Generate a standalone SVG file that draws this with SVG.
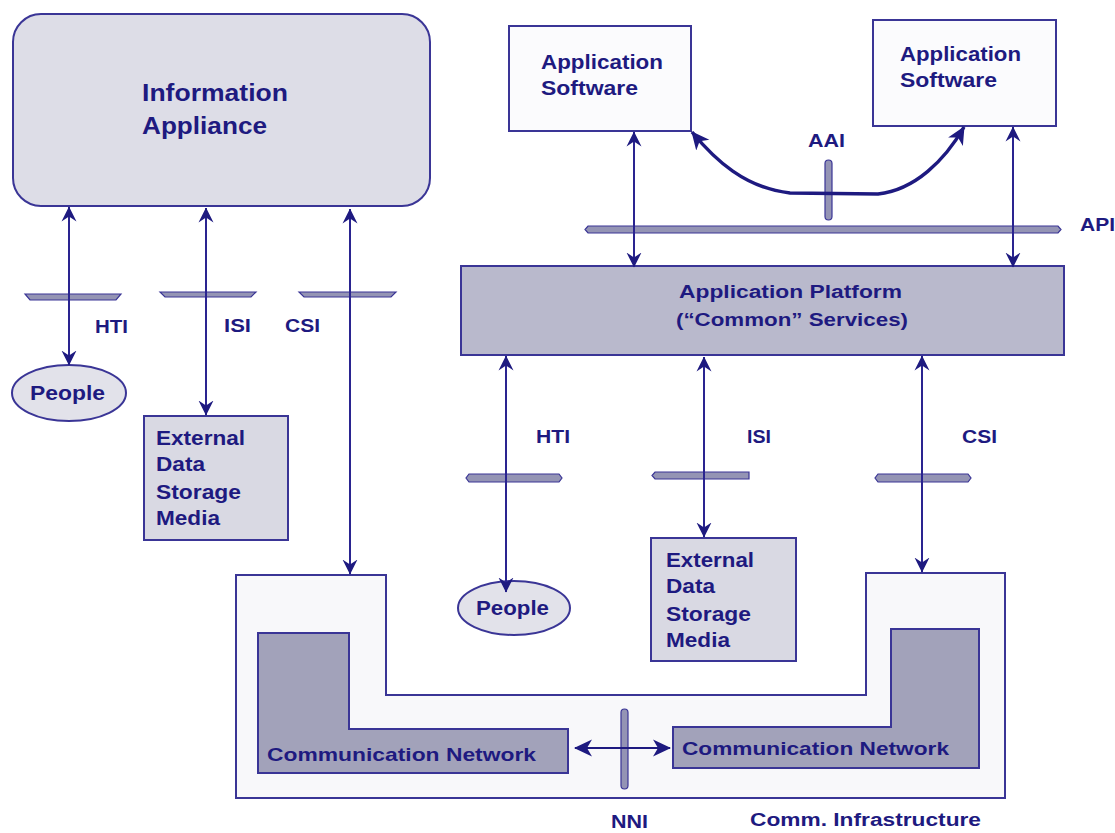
<svg xmlns="http://www.w3.org/2000/svg" width="1115" height="833" viewBox="0 0 1115 833">
  <defs>
    <marker id="barb" viewBox="0 0 15 16" refX="14.5" refY="8" markerWidth="15" markerHeight="16" markerUnits="userSpaceOnUse" orient="auto-start-reverse">
      <path d="M15,8 L0,0.5 L5,8 L0,15.5 Z" fill="#1e1a80"/>
    </marker>
    <marker id="barb-big" viewBox="0 0 18 18" refX="17" refY="9" markerWidth="18" markerHeight="18" markerUnits="userSpaceOnUse" orient="auto-start-reverse">
      <path d="M18,9 L0,0.5 L5,9 L0,17.5 Z" fill="#1e1a80"/>
    </marker>
    <style>
      text { font-family: "Liberation Sans", Arial, sans-serif; font-weight: bold; fill: #1e1a80; }
      .box { stroke: #3a3596; stroke-width: 2; }
      .link { fill: none; stroke: #2a2490; stroke-width: 2; marker-start: url(#barb); marker-end: url(#barb); }
      .link-big { fill: none; stroke: #1e1a80; stroke-width: 3.5; marker-start: url(#barb-big); marker-end: url(#barb-big); }
      .bar { fill: #9494b4; stroke: #3a3596; stroke-width: 1.2; }
    </style>
  </defs>

  <rect width="1115" height="833" fill="#ffffff"/>

  <!-- communication infrastructure frame -->
  <g id="comm-infrastructure">
    <path class="box" fill="#f8f8fa" d="M236,575 L386,575 L386,695 L866,695 L866,573 L1005,573 L1005,798 L236,798 Z"/>
    <text x="750" y="826" font-size="18" textLength="231" lengthAdjust="spacingAndGlyphs">Comm. Infrastructure</text>
  </g>

  <g id="comm-network-left">
    <path class="box" fill="#a2a2ba" d="M258,633 L349,633 L349,729 L568,729 L568,773 L258,773 Z"/>
    <text x="267" y="761" font-size="19" textLength="269" lengthAdjust="spacingAndGlyphs">Communication Network</text>
  </g>

  <g id="comm-network-right">
    <path class="box" fill="#a2a2ba" d="M891,629 L979,629 L979,768 L673,768 L673,727 L891,727 Z"/>
    <text x="682" y="755" font-size="19" textLength="267" lengthAdjust="spacingAndGlyphs">Communication Network</text>
  </g>

  <!-- information appliance side -->
  <g id="information-appliance">
    <rect class="box" x="13" y="14" width="417" height="192" rx="28" ry="28" fill="#dddde7"/>
    <text x="142" y="101" font-size="24" textLength="146" lengthAdjust="spacingAndGlyphs">Information</text>
    <text x="142" y="134" font-size="24" textLength="125" lengthAdjust="spacingAndGlyphs">Appliance</text>
  </g>

  <g id="people-left">
    <ellipse class="box" cx="69" cy="393" rx="57" ry="28" fill="#e2e2ea"/>
    <text x="30" y="400" font-size="20" textLength="75" lengthAdjust="spacingAndGlyphs">People</text>
  </g>

  <g id="storage-left">
    <rect class="box" x="144" y="416" width="144" height="124" fill="#d9d9e3"/>
    <text x="156" y="445" font-size="20" textLength="89" lengthAdjust="spacingAndGlyphs">External</text>
    <text x="156" y="471" font-size="20" textLength="49" lengthAdjust="spacingAndGlyphs">Data</text>
    <text x="156" y="499" font-size="20" textLength="85" lengthAdjust="spacingAndGlyphs">Storage</text>
    <text x="156" y="525" font-size="20" textLength="64" lengthAdjust="spacingAndGlyphs">Media</text>
  </g>

  <!-- application side -->
  <g id="app-software-1">
    <rect class="box" x="509" y="26" width="182" height="105" fill="#fbfbfd"/>
    <text x="541" y="69" font-size="20" textLength="122" lengthAdjust="spacingAndGlyphs">Application</text>
    <text x="541" y="95" font-size="20" textLength="97" lengthAdjust="spacingAndGlyphs">Software</text>
  </g>

  <g id="app-software-2">
    <rect class="box" x="873" y="20" width="183" height="106" fill="#fbfbfd"/>
    <text x="900" y="61" font-size="20" textLength="121" lengthAdjust="spacingAndGlyphs">Application</text>
    <text x="900" y="87" font-size="20" textLength="97" lengthAdjust="spacingAndGlyphs">Software</text>
  </g>

  <g id="app-platform">
    <rect class="box" x="461" y="266" width="603" height="89" fill="#b9b9cc"/>
    <text x="679" y="298" font-size="18" textLength="223" lengthAdjust="spacingAndGlyphs">Application Platform</text>
    <text x="676" y="326" font-size="18" textLength="232" lengthAdjust="spacingAndGlyphs">(“Common” Services)</text>
  </g>

  <g id="people-right">
    <ellipse class="box" cx="514" cy="608" rx="56" ry="27" fill="#e2e2ea"/>
    <text x="476" y="615" font-size="20" textLength="73" lengthAdjust="spacingAndGlyphs">People</text>
  </g>

  <g id="storage-right">
    <rect class="box" x="651" y="538" width="145" height="123" fill="#d9d9e3"/>
    <text x="666" y="567" font-size="20" textLength="88" lengthAdjust="spacingAndGlyphs">External</text>
    <text x="666" y="593" font-size="20" textLength="49" lengthAdjust="spacingAndGlyphs">Data</text>
    <text x="666" y="621" font-size="20" textLength="85" lengthAdjust="spacingAndGlyphs">Storage</text>
    <text x="666" y="647" font-size="20" textLength="64" lengthAdjust="spacingAndGlyphs">Media</text>
  </g>

  <!-- connectors and interface bars -->
  <g id="connectors">
    <!-- interface bars -->
    <polygon class="bar" points="25,294 121,294 116,300 30,300"/>
    <polygon class="bar" points="160,292 256,292 251,297 165,297"/>
    <polygon class="bar" points="299,292 396,292 391,297 304,297"/>
    <polygon class="bar" points="588,226 1058,226 1061,229.5 1058,233 588,233 585,229.5"/>
    <polygon class="bar" points="469,474 559,474 562,478 559,482 469,482 466,478"/>
    <polygon class="bar" points="655,472 749,472 749,479 655,479 652,475.5"/>
    <polygon class="bar" points="878,474 968,474 971,478 968,482 878,482 875,478"/>
    <rect class="bar" x="825" y="160" width="7" height="60" rx="3.5"/>
    <rect class="bar" x="621" y="709" width="7" height="80" rx="3.5"/>

    <!-- information appliance links -->
    <line class="link" x1="69" y1="207" x2="69" y2="365"/>
    <line class="link" x1="206" y1="208" x2="206" y2="415"/>
    <line class="link" x1="350" y1="209" x2="350" y2="574"/>

    <!-- application platform links -->
    <line class="link" x1="634" y1="132" x2="634" y2="267"/>
    <line class="link" x1="1013" y1="127" x2="1013" y2="267"/>
    <line class="link" x1="506" y1="356" x2="506" y2="592"/>
    <line class="link" x1="704" y1="357" x2="704" y2="537"/>
    <line class="link" x1="922" y1="356" x2="922" y2="572"/>

    <!-- application-to-application link -->
    <path class="link-big" d="M692,132 C715,160 745,188 790,193 L878,194 C915,190 945,160 964,127"/>

    <!-- network-to-network link -->
    <line class="link-big" style="stroke-width:2" x1="575" y1="748" x2="670" y2="748"/>
  </g>

  <!-- interface labels -->
  <g id="labels">
    <text x="95" y="333" font-size="18" textLength="33" lengthAdjust="spacingAndGlyphs">HTI</text>
    <text x="224" y="332" font-size="18" textLength="27" lengthAdjust="spacingAndGlyphs">ISI</text>
    <text x="285" y="332" font-size="18" textLength="35" lengthAdjust="spacingAndGlyphs">CSI</text>
    <text x="536" y="443" font-size="18" textLength="34" lengthAdjust="spacingAndGlyphs">HTI</text>
    <text x="747" y="443" font-size="18" textLength="24" lengthAdjust="spacingAndGlyphs">ISI</text>
    <text x="962" y="443" font-size="18" textLength="35" lengthAdjust="spacingAndGlyphs">CSI</text>
    <text x="808" y="147" font-size="18" textLength="37" lengthAdjust="spacingAndGlyphs">AAI</text>
    <text x="1080" y="231" font-size="18" textLength="35" lengthAdjust="spacingAndGlyphs">API</text>
    <text x="611" y="828" font-size="18" textLength="37" lengthAdjust="spacingAndGlyphs">NNI</text>
  </g>
</svg>
